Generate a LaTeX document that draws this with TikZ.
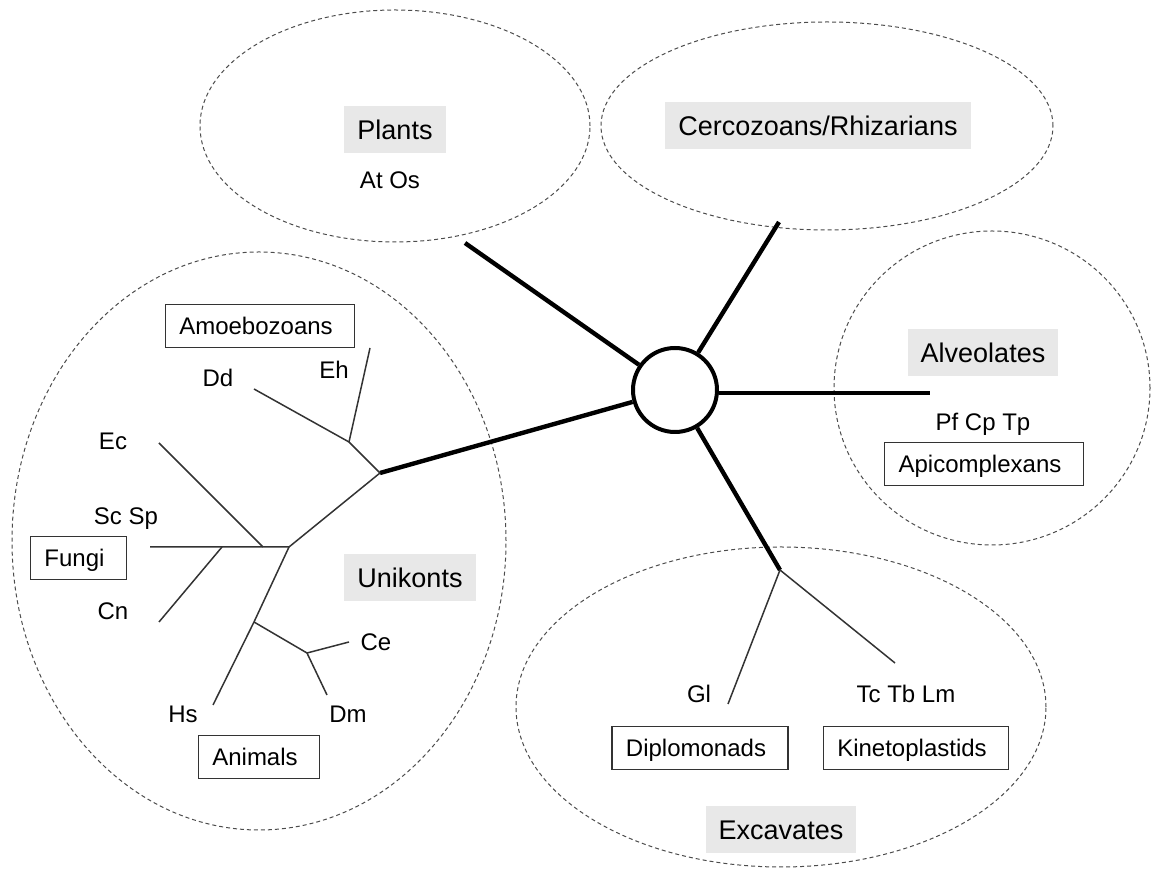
\documentclass[tikz,border=0pt]{standalone}
\usepackage{fontspec}
\setmainfont{Liberation Sans}
\usetikzlibrary{shapes.geometric}
\begin{document}
\begin{tikzpicture}[x=0.5pt,y=-0.5pt,
  group/.style={ellipse, draw=black!70, dash pattern=on 2pt off 1.5pt, line width=0.5pt, inner sep=0pt},
  clade/.style={fill=black!9, inner xsep=6.5pt, inner ysep=0pt, minimum height=23.5pt, text height=9.7pt, text depth=0pt, font=\fontsize{13.5}{16}\selectfont},
  boxed/.style={draw=black!80, line width=0.6pt, inner xsep=7pt, inner ysep=0pt, minimum height=21.5pt, text height=8.6pt, text depth=0pt, font=\fontsize{12}{14}\selectfont, execute at end node=\hspace{4pt}},
  taxon/.style={inner sep=0pt, anchor=base, font=\fontsize{12}{14}\selectfont},
  branch/.style={line width=0.75pt, draw=black!80, line join=round},
  trunk/.style={line width=2.2pt, draw=black},
]
\useasboundingbox (0,0) rectangle (1152,870);

% group ellipses
\node[group, minimum width=195pt, minimum height=116pt] (plantsE) at (395,126) {};
\node[group, minimum width=226pt, minimum height=104pt] (cercoE) at (827,126) {};
\node[group, minimum width=158pt, minimum height=157pt] (alveoE) at (992,388) {};
\node[group, minimum width=265pt, minimum height=160pt] (excavE) at (781,707) {};
\node[group, minimum width=247pt, minimum height=289pt] (unikE) at (259,541) {};

% hub and trunks
\node[circle, draw, line width=2pt, minimum size=42pt, inner sep=0pt, fill=white] (hub) at (675,390) {};
\coordinate (plantsT) at (465,243);
\coordinate (cercoT) at (779,222);
\coordinate (alveoT) at (930,393);
\coordinate (J8) at (780,570);
\coordinate (J1) at (380,473);
\draw[trunk] (hub) -- (plantsT);
\draw[trunk] (hub) -- (cercoT);
\draw[trunk] (hub.east |- alveoT) -- (alveoT);
\draw[trunk] (hub) -- (J8);
\draw[trunk] (hub) -- (J1);

% Unikont tree
\coordinate (J2) at (349,442);
\coordinate (tEh) at (370,348);
\coordinate (tDd) at (254,389);
\coordinate (J3) at (289,547);
\coordinate (J4) at (263,547);
\coordinate (tEc) at (159,443);
\coordinate (J5) at (222,547);
\coordinate (tCn) at (159,622);
\coordinate (tSc) at (150,547);
\coordinate (J6) at (254,622);
\coordinate (tHs) at (213,705);
\coordinate (J7) at (307,653);
\coordinate (tCe) at (349,642);
\coordinate (tDm) at (327,695);
\draw[branch] (J1) -- (J2) -- (tEh);
\draw[branch] (J2) -- (tDd);
\draw[branch] (J1) -- (J3) -- (J4) -- (J5) -- (tSc);
\draw[branch] (J4) -- (tEc);
\draw[branch] (J5) -- (tCn);
\draw[branch] (J3) -- (J6) -- (tHs);
\draw[branch] (J6) -- (J7) -- (tCe);
\draw[branch] (J7) -- (tDm);

% Excavate tree
\coordinate (tGl) at (728,704);
\coordinate (tKi) at (895,663);
\draw[branch] (J8) -- (tGl);
\draw[branch] (J8) -- (tKi);

% labels
\node[clade] (plantsL) at (395,130) {Plants};
\node[taxon] (atos) at (390,189) {At Os};
\node[clade] (cercoL) at (818,126) {Cercozoans/Rhizarians};
\node[clade] (alveoL) at (983,353) {Alveolates};
\node[taxon] (pfcptp) at (983,431) {Pf Cp Tp};
\node[boxed] (apic) at (984,464) {Apicomplexans};
\node[clade] (excavL) at (781,830) {Excavates};
\node[boxed] (diplo) at (700,748) {Diplomonads};
\node[boxed] (kineto) at (916,748) {Kinetoplastids};
\node[taxon] (gl) at (699,703) {Gl};
\node[taxon] (tctblm) at (906,703) {Tc Tb Lm};
\node[clade] (unikL) at (410,578) {Unikonts};
\node[boxed] (amoeb) at (260,326) {Amoebozoans};
\node[taxon] (dd) at (218,387) {Dd};
\node[taxon] (eh) at (334,378.5) {Eh};
\node[taxon] (ec) at (113,450) {Ec};
\node[taxon] (scsp) at (126,525) {Sc Sp};
\node[boxed] (fungi) at (78.5,558) {Fungi};
\node[taxon] (cn) at (113,620) {Cn};
\node[taxon] (ce) at (376,651) {Ce};
\node[taxon] (dm) at (348,723) {Dm};
\node[taxon] (hs) at (183,723) {Hs};
\node[boxed] (anim) at (259,757) {Animals};
\end{tikzpicture}
\end{document}
